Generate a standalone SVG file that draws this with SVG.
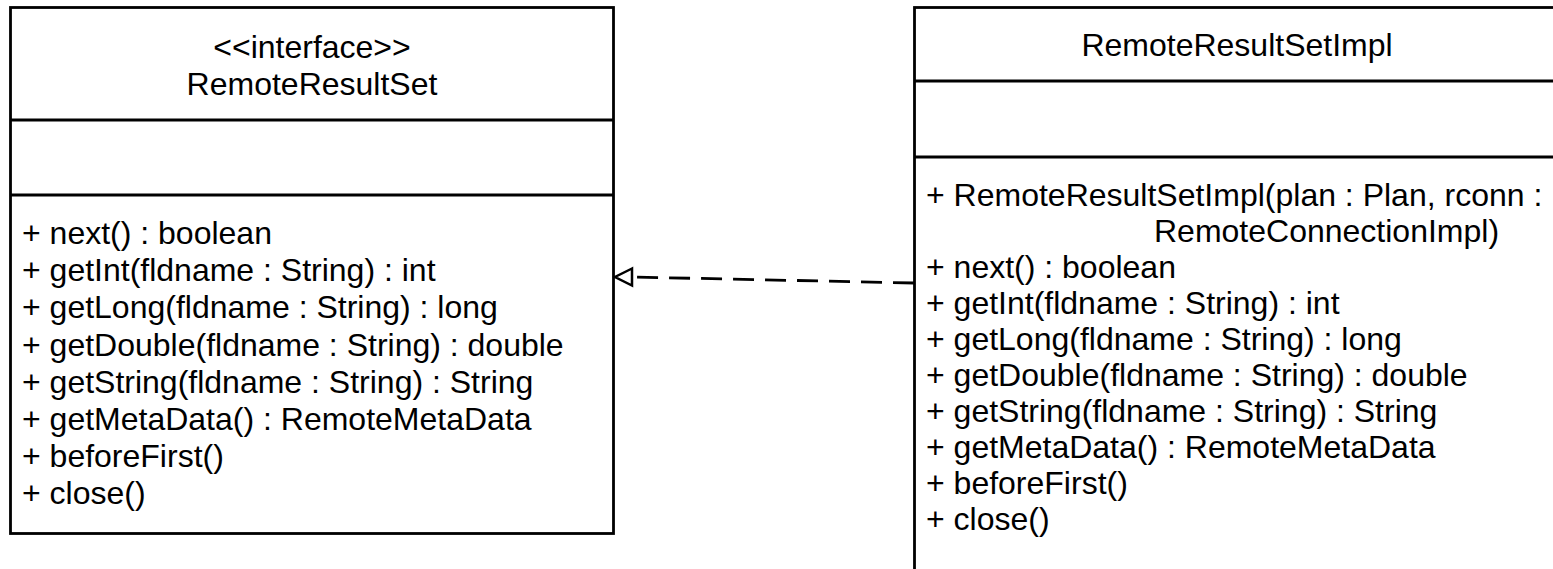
<svg xmlns="http://www.w3.org/2000/svg" width="1553" height="569" viewBox="0 0 1553 569">
<style>
.box{fill:#fff;stroke:#000;stroke-width:2.8}
.div{stroke:#000;stroke-width:2.8}
text{font-family:"Liberation Sans",Arial,sans-serif;font-size:32px;fill:#000}
.c{text-anchor:middle}
.conn{fill:none;stroke:#000;stroke-width:2.8;stroke-dasharray:21 11}
.head{fill:#fff;stroke:#000;stroke-width:2.5}
</style>
<rect width="1553" height="569" fill="#fff"/>
<g id="RemoteResultSet">
<rect class="box" x="10.5" y="7.5" width="603" height="526"/>
<line class="div" x1="10.5" y1="120" x2="613.5" y2="120"/>
<line class="div" x1="10.5" y1="195" x2="613.5" y2="195"/>
<text class="c" x="312" y="58">&lt;&lt;interface&gt;&gt;</text>
<text class="c" x="312" y="95">RemoteResultSet</text>
<text x="22" y="244">+ next() : boolean</text>
<text x="22" y="281.2">+ getInt(fldname : String) : int</text>
<text x="22" y="318.4">+ getLong(fldname : String) : long</text>
<text x="22" y="355.6">+ getDouble(fldname : String) : double</text>
<text x="22" y="392.8">+ getString(fldname : String) : String</text>
<text x="22" y="430">+ getMetaData() : RemoteMetaData</text>
<text x="22" y="467.2">+ beforeFirst()</text>
<text x="22" y="504.4">+ close()</text>
</g>
<g id="RemoteResultSetImpl">
<rect class="box" x="914.5" y="7.5" width="700" height="600"/>
<line class="div" x1="914.5" y1="81" x2="1560" y2="81"/>
<line class="div" x1="914.5" y1="157" x2="1560" y2="157"/>
<text class="c" x="1237" y="56">RemoteResultSetImpl</text>
<text x="926" y="206">+ RemoteResultSetImpl(plan : Plan, rconn :</text>
<text x="1154" y="242">RemoteConnectionImpl)</text>
<text x="926" y="278">+ next() : boolean</text>
<text x="926" y="314">+ getInt(fldname : String) : int</text>
<text x="926" y="350">+ getLong(fldname : String) : long</text>
<text x="926" y="386">+ getDouble(fldname : String) : double</text>
<text x="926" y="422">+ getString(fldname : String) : String</text>
<text x="926" y="458">+ getMetaData() : RemoteMetaData</text>
<text x="926" y="494">+ beforeFirst()</text>
<text x="926" y="530">+ close()</text>
</g>
<g id="connectors">
<path class="conn" d="M914,283 L632,277"/>
<path class="head" d="M632,268.5 L615,277 L632,285.5 Z"/>
</g>
</svg>
